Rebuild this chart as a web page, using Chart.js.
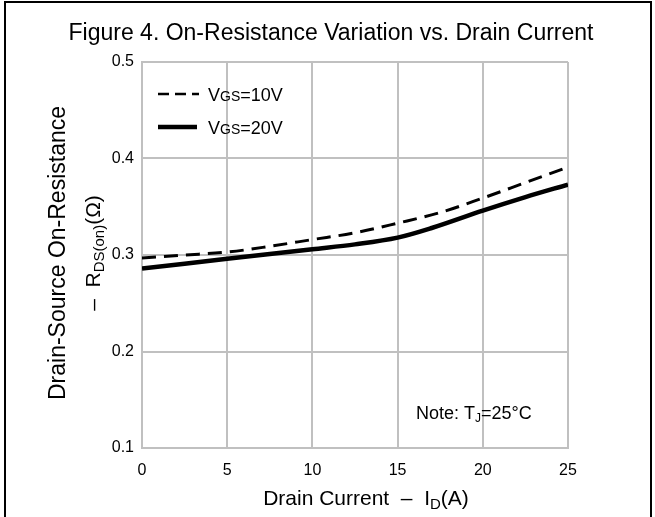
<!DOCTYPE html>
<html>
<head>
<meta charset="utf-8">
<script src="https://cdn.jsdelivr.net/npm/chart.js@4/dist/chart.umd.min.js"></script>
<style>
  html, body { margin: 0; padding: 0; background: #fff; }
  #wrap { width: 655px; height: 517px; position: relative; }
</style>
</head>
<body>
<div id="wrap"><canvas id="rdsChart" width="655" height="517"></canvas></div>
<script>
// drain current (A) and on-resistance (ohm)
const currentA = [0, 2.5, 5, 7.5, 10, 12.5, 15, 17.5, 20, 22.5, 25];
const rdsVgs10 = [0.297, 0.300, 0.303, 0.309, 0.316, 0.323, 0.333, 0.344, 0.359, 0.375, 0.391];
const currentB = [0, 2.5, 5, 7.5, 10, 12.5, 15, 17, 20, 22.5, 25];
const rdsVgs20 = [0.286, 0.291, 0.296, 0.301, 0.306, 0.311, 0.318, 0.328, 0.346, 0.360, 0.373];
const xTicks = [0, 5, 10, 15, 20, 25];
const yTicks = [0.1, 0.2, 0.3, 0.4, 0.5];

const FONT = '"Liberation Sans", Arial, sans-serif';
const GRID = '#c0c0c0';

function toPoints(xs, ys) {
  return xs.map((x, i) => ({ x: x, y: ys[i] }));
}

// draws a run of [text, size, dy] pieces left to right
function drawRuns(ctx, x, y, runs) {
  runs.forEach(r => {
    ctx.font = r[1] + 'px ' + FONT;
    ctx.fillText(r[0], x, y + (r[2] || 0));
    x += ctx.measureText(r[0]).width;
  });
  return x;
}
function runsWidth(ctx, runs) {
  let w = 0;
  runs.forEach(r => {
    ctx.font = r[1] + 'px ' + FONT;
    w += ctx.measureText(r[0]).width;
  });
  return w;
}

const decorations = {
  id: 'decorations',
  afterDraw(chart) {
    const ctx = chart.ctx;
    ctx.save();
    ctx.fillStyle = '#000';
    ctx.textBaseline = 'alphabetic';

    // outer frame (open at bottom)
    ctx.strokeStyle = '#000';
    ctx.lineWidth = 2;
    ctx.beginPath();
    ctx.moveTo(5, 517);
    ctx.lineTo(5, 2);
    ctx.lineTo(651, 2);
    ctx.lineTo(651, 517);
    ctx.stroke();

    // title
    ctx.textAlign = 'center';
    ctx.font = '23px ' + FONT;
    ctx.fillText('Figure 4. On-Resistance Variation vs. Drain Current', 331, 40);

    // x axis title
    ctx.textAlign = 'left';
    const xRuns = [['Drain Current  \u2013  I', 21], ['D', 15, 4], ['(A)', 21]];
    drawRuns(ctx, 366 - runsWidth(ctx, xRuns) / 2, 505, xRuns);

    // y axis title, rotated
    ctx.save();
    ctx.rotate(-Math.PI / 2);
    ctx.textAlign = 'center';
    ctx.font = '23px ' + FONT;
    ctx.fillText('Drain-Source On-Resistance', -253, 65);
    ctx.textAlign = 'left';
    const yRuns = [['\u2013  R', 21], ['DS(on)', 15, 4], ['(\u03a9)', 21]];
    drawRuns(ctx, -253 - runsWidth(ctx, yRuns) / 2, 100, yRuns);
    ctx.restore();

    // legend
    ctx.strokeStyle = '#000';
    ctx.lineWidth = 2.5;
    ctx.setLineDash([11, 6]);
    ctx.beginPath();
    ctx.moveTo(158, 94);
    ctx.lineTo(199, 94);
    ctx.stroke();
    ctx.setLineDash([]);
    ctx.lineWidth = 4.5;
    ctx.beginPath();
    ctx.moveTo(158, 127);
    ctx.lineTo(197, 127);
    ctx.stroke();
    drawRuns(ctx, 208, 101, [['V', 18], ['GS', 14], ['=10V', 18]]);
    drawRuns(ctx, 208, 134, [['V', 18], ['GS', 14], ['=20V', 18]]);

    // note
    drawRuns(ctx, 416, 419, [['Note: T', 18], ['J', 12, 3], ['=25\u00b0C', 18]]);

    ctx.restore();
  }
};

new Chart(document.getElementById('rdsChart').getContext('2d'), {
  type: 'line',
  data: {
    datasets: [
      {
        label: 'VGS=10V',
        data: toPoints(currentA, rdsVgs10),
        borderColor: '#000',
        borderWidth: 3,
        borderDash: [14, 8],
        pointRadius: 0,
        cubicInterpolationMode: 'monotone',
        fill: false
      },
      {
        label: 'VGS=20V',
        data: toPoints(currentB, rdsVgs20),
        borderColor: '#000',
        borderWidth: 4.5,
        pointRadius: 0,
        cubicInterpolationMode: 'monotone',
        fill: false
      }
    ]
  },
  options: {
    responsive: false,
    animation: false,
    events: [],
    layout: { padding: { left: 0, top: 62, right: 87, bottom: 0 } },
    plugins: {
      legend: { display: false },
      tooltip: { enabled: false }
    },
    scales: {
      x: {
        type: 'linear',
        min: 0,
        max: 25,
        afterFit: s => { s.height = 69; },
        afterBuildTicks: s => { s.ticks = xTicks.map(v => ({ value: v })); },
        grid: { color: GRID, lineWidth: 2, drawTicks: false },
        border: { color: GRID, width: 2 },
        ticks: {
          padding: 13,
          color: '#000',
          font: { family: FONT, size: 16 },
          maxRotation: 0
        }
      },
      y: {
        min: 0.1,
        max: 0.5,
        afterFit: s => { s.width = 142; },
        afterBuildTicks: s => { s.ticks = yTicks.map(v => ({ value: v })); },
        grid: { color: GRID, lineWidth: 2, drawTicks: false },
        border: { color: GRID, width: 2 },
        ticks: {
          padding: 8,
          color: '#000',
          font: { family: FONT, size: 16 },
          callback: v => v.toFixed(1)
        }
      }
    }
  },
  plugins: [decorations]
});
</script>
</body>
</html>
